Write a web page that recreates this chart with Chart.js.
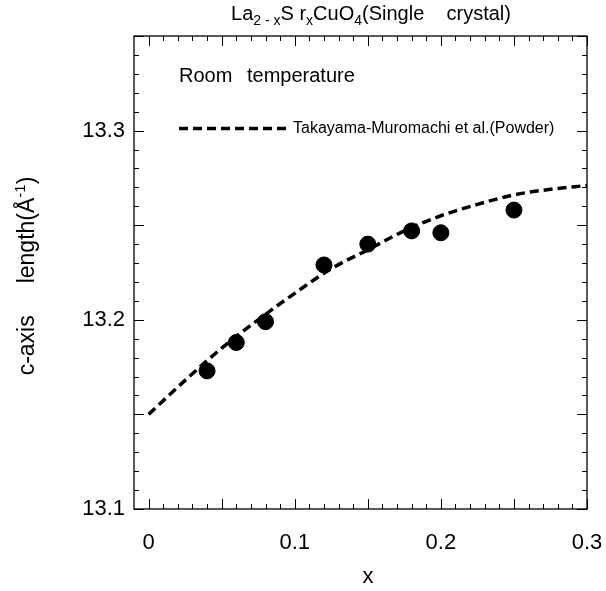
<!DOCTYPE html>
<html>
<head>
<meta charset="utf-8">
<script src="https://cdn.jsdelivr.net/npm/chart.js@4.4.1/dist/chart.umd.min.js"></script>
<style>
  html, body { margin: 0; padding: 0; background: #fff; }
  #wrap { width: 606px; height: 591px; }
</style>
</head>
<body>
<div id="wrap"><canvas id="caxis"></canvas></div>
<script>
// single crystal measurements, room temperature
const crystalX = [0.04, 0.06, 0.08, 0.12, 0.15, 0.18, 0.20, 0.25];
const crystalC = [13.173, 13.188, 13.199, 13.229, 13.240, 13.247, 13.246, 13.258];

// powder reference curve (Takayama-Muromachi et al.)
const powderX = [0, 0.025, 0.05, 0.075, 0.1, 0.125, 0.15, 0.175, 0.2, 0.225, 0.25, 0.275, 0.3];
const powderC = [13.150, 13.168, 13.185, 13.200, 13.214, 13.227, 13.237, 13.247, 13.255, 13.261, 13.266, 13.269, 13.271];

const xTicks = [0, 0.1, 0.2, 0.3];
const yTicks = [13.1, 13.2, 13.3];

const FONT = '"Liberation Sans", Arial, Helvetica, sans-serif';

// draws text pieces in a row; each piece may be shifted and shrunk (sub/superscripts)
function drawRuns(ctx, runs, x, y) {
  runs.forEach(r => {
    ctx.font = r.size + 'px ' + FONT;
    ctx.fillText(r.t, x, y + (r.dy || 0));
    x += ctx.measureText(r.t).width;
  });
}
function runsWidth(ctx, runs) {
  let w = 0;
  runs.forEach(r => { ctx.font = r.size + 'px ' + FONT; w += ctx.measureText(r.t).width; });
  return w;
}

const framePlugin = {
  id: 'frame',
  afterDraw(chart) {
    const ctx = chart.ctx;
    const a = chart.chartArea;
    const xs = chart.scales.x, ys = chart.scales.y;
    ctx.save();
    ctx.strokeStyle = '#000';
    ctx.lineWidth = 1.3;
    ctx.strokeRect(a.left, a.top, a.right - a.left, a.bottom - a.top);

    // inward ticks on all four sides, 0.01 steps, longer every 0.05
    ctx.lineWidth = 1;
    ctx.beginPath();
    for (let i = 0; i <= 30; i++) {
      const px = Math.round(xs.getPixelForValue(i / 100)) + 0.5;
      const len = i % 5 === 0 ? 10 : 5;
      ctx.moveTo(px, a.bottom); ctx.lineTo(px, a.bottom - len);
      ctx.moveTo(px, a.top); ctx.lineTo(px, a.top + len);
    }
    for (let i = 0; i <= 25; i++) {
      const py = Math.round(ys.getPixelForValue(13.1 + i / 100)) + 0.5;
      const len = i % 5 === 0 ? 10 : 5;
      ctx.moveTo(a.left, py); ctx.lineTo(a.left + len, py);
      ctx.moveTo(a.right, py); ctx.lineTo(a.right - len, py);
    }
    ctx.stroke();

    ctx.fillStyle = '#000';
    ctx.textBaseline = 'alphabetic';
    ctx.textAlign = 'left';

    // title with sub-scripts
    const title = [
      { t: 'La', size: 20 },
      { t: '2 - x', size: 14, dy: 5 },
      { t: 'S r', size: 20 },
      { t: 'x', size: 14, dy: 5 },
      { t: 'CuO', size: 20 },
      { t: '4', size: 14, dy: 5 },
      { t: '(Single    crystal)', size: 20 }
    ];
    const tw = runsWidth(ctx, title);
    drawRuns(ctx, title, 371 - tw / 2, 20);

    // annotation and legend inside the plot
    ctx.font = '20px ' + FONT;
    ctx.fillText('Room', a.left + 45, 82);
    ctx.fillText('temperature', a.left + 113, 82);

    const ly = ys.getPixelForValue(13.3) - 2;
    ctx.setLineDash([9, 5]);
    ctx.lineWidth = 3.5;
    ctx.beginPath();
    ctx.moveTo(a.left + 45, ly);
    ctx.lineTo(a.left + 153, ly);
    ctx.stroke();
    ctx.setLineDash([]);
    ctx.font = '16px ' + FONT;
    ctx.textBaseline = 'middle';
    ctx.fillText('Takayama-Muromachi et al.(Powder)', a.left + 159, ly);

    // axis titles
    ctx.textBaseline = 'alphabetic';
    ctx.textAlign = 'center';
    ctx.font = '22px ' + FONT;
    ctx.fillText('x', 368, 583);

    const ylab = [
      { t: 'c-axis     length(Å', size: 23 },
      { t: '-1', size: 15, dy: -9 },
      { t: ')', size: 23 }
    ];
    ctx.textAlign = 'left';
    const yw = runsWidth(ctx, ylab);
    ctx.translate(34, 276);
    ctx.rotate(-Math.PI / 2);
    drawRuns(ctx, ylab, -yw / 2, 0);
    ctx.restore();
  }
};

new Chart(document.getElementById('caxis'), {
  type: 'scatter',
  data: {
    datasets: [
      {
        label: 'Takayama-Muromachi et al.(Powder)',
        type: 'line',
        data: powderX.map((x, i) => ({ x: x, y: powderC[i] })),
        borderColor: '#000',
        borderWidth: 3.5,
        borderDash: [9, 5],
        cubicInterpolationMode: 'monotone',
        pointRadius: 0,
        fill: false
      },
      {
        label: 'Single crystal',
        data: crystalX.map((x, i) => ({ x: x, y: crystalC[i] })),
        backgroundColor: '#000',
        borderColor: '#000',
        pointRadius: 8,
        pointHoverRadius: 8
      }
    ]
  },
  options: {
    responsive: true,
    maintainAspectRatio: false,
    animation: false,
    events: [],
    layout: { padding: { top: 36, right: 19, left: 0, bottom: 0 } },
    plugins: { legend: { display: false }, tooltip: { enabled: false } },
    scales: {
      x: {
        type: 'linear',
        min: -0.01,
        max: 0.3,
        grid: { display: false, drawTicks: false },
        border: { display: false },
        afterBuildTicks: s => { s.ticks = xTicks.map(v => ({ value: v })); },
        afterFit: s => { s.height = 82; s.paddingLeft = 0; s.paddingRight = 0; },
        ticks: {
          padding: 21,
          color: '#000',
          font: { family: FONT, size: 22 },
          callback: v => v === 0 ? '0' : v.toFixed(1)
        }
      },
      y: {
        type: 'linear',
        min: 13.1,
        max: 13.35,
        grid: { display: false, drawTicks: false },
        border: { display: false },
        afterBuildTicks: s => { s.ticks = yTicks.map(v => ({ value: v })); },
        afterFit: s => { s.width = 134; s.paddingTop = 0; s.paddingBottom = 0; },
        ticks: {
          padding: 9,
          color: '#000',
          font: { family: FONT, size: 22 },
          callback: v => v.toFixed(1)
        }
      }
    }
  },
  plugins: [framePlugin]
});
</script>
</body>
</html>
